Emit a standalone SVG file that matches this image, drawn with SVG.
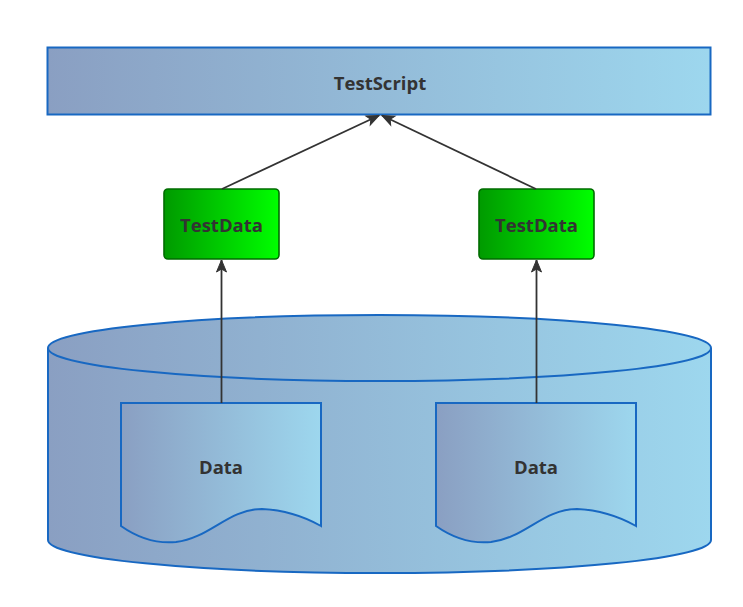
<svg xmlns="http://www.w3.org/2000/svg" width="743" height="607" viewBox="0 0 743 607">
<style>
.blue{stroke:#1868c2;stroke-width:2}
.green{fill:url(#gg);stroke:#006b00;stroke-width:1.6}
.lbl{font-family:"Open Sans","Noto Sans","DejaVu Sans",sans-serif;font-weight:bold;fill:#333;text-anchor:middle;dominant-baseline:central}
.conn{stroke:#333;stroke-width:1.8;fill:none;marker-end:url(#ah)}
</style>
<defs>
<linearGradient id="bg" x1="0" y1="0" x2="1" y2="0">
<stop offset="0" stop-color="#8a9fc2"/>
<stop offset="1" stop-color="#9dd7ee"/>
</linearGradient>
<linearGradient id="gg" x1="0" y1="0" x2="1" y2="0">
<stop offset="0" stop-color="#009a00"/>
<stop offset="1" stop-color="#00ff00"/>
</linearGradient>
<marker id="ah" viewBox="0 0 10 10" refX="10" refY="5" markerWidth="10" markerHeight="10" markerUnits="userSpaceOnUse" orient="auto" overflow="visible">
<path d="M-2,0 L10,5 L-2,10 L1,5 Z" fill="#333" stroke="#333" stroke-width="1"/>
</marker>
</defs>
<g id="testscript">
<rect x="47.5" y="47.5" width="663" height="67" fill="url(#bg)" class="blue"/>
<text x="380" y="82" class="lbl" font-size="18.5">TestScript</text>
</g>
<g id="database">
<path d="M48,348 A331.5,33 0 0 1 711,348 L711,540 A331.5,33 0 0 1 48,540 Z" fill="url(#bg)" class="blue"/>
<path d="M48,348 A331.5,33 0 0 0 711,348" fill="none" class="blue"/>
</g>
<g id="data1">
<path d="M121,403 H321 V526 C305,517 285,510 262,509 C228,509 210,538 176,542 C155,544 138,538 121,526 Z" fill="url(#bg)" class="blue"/>
<text x="221" y="466" class="lbl" font-size="18.5">Data</text>
</g>
<g id="data2">
<path d="M436,403 H636 V526 C620,517 600,510 577,509 C543,509 525,538 491,542 C470,544 453,538 436,526 Z" fill="url(#bg)" class="blue"/>
<text x="536" y="466" class="lbl" font-size="18.5">Data</text>
</g>
<g id="testdata1">
<rect x="164" y="189" width="115" height="70" rx="4" class="green"/>
<text x="221.5" y="224" class="lbl" font-size="18.5">TestData</text>
</g>
<g id="testdata2">
<rect x="479" y="189" width="115" height="70" rx="4" class="green"/>
<text x="536.5" y="224" class="lbl" font-size="18.5">TestData</text>
</g>
<g id="connectors">
<line x1="222" y1="189" x2="379" y2="115.5" class="conn"/>
<line x1="536" y1="189" x2="382" y2="115.5" class="conn"/>
<line x1="221.5" y1="403" x2="221.5" y2="260" class="conn"/>
<line x1="536.5" y1="403" x2="536.5" y2="260" class="conn"/>
</g>
</svg>
